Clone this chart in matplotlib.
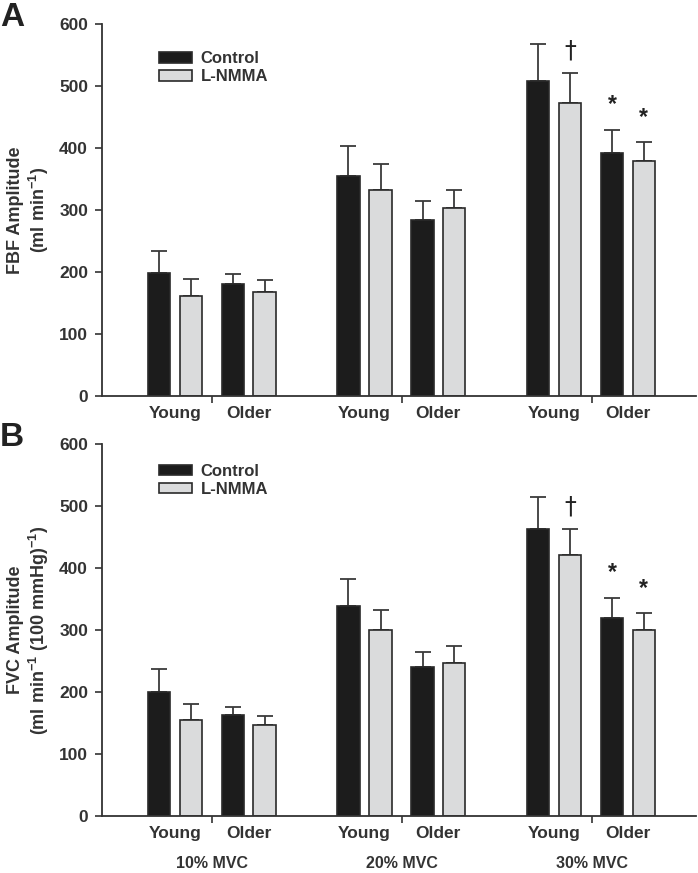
import matplotlib
matplotlib.use("Agg")
import matplotlib.pyplot as plt
import numpy as np

plt.rcParams['font.family'] = ['Liberation Sans', 'DejaVu Sans']
plt.rcParams['font.weight'] = 'bold'
plt.rcParams['mathtext.fontset'] = 'custom'
plt.rcParams['mathtext.rm'] = 'Liberation Sans:bold'
plt.rcParams['mathtext.bf'] = 'Liberation Sans:bold'
plt.rcParams['mathtext.it'] = 'Liberation Sans:bold'

intensities = ["10% MVC", "20% MVC", "30% MVC"]
groups = ["Young", "Older"]
conditions = ["Control", "L-NMMA"]

# Panel A: FBF amplitude  [intensity][Young ctrl, Young LNMMA, Older ctrl, Older LNMMA]
fbf_mean = [[198, 161, 181, 167],
            [355, 332, 284, 303],
            [508, 473, 392, 379]]
fbf_err = [[36, 28, 16, 20],
           [48, 42, 30, 30],
           [60, 48, 37, 30]]
fbf_marks = [["", "", "", ""], ["", "", "", ""], ["", "†", "*", "*"]]

# Panel B: FVC amplitude
fvc_mean = [[200, 155, 163, 147],
            [339, 300, 240, 247],
            [463, 421, 319, 300]]
fvc_err = [[37, 26, 13, 14],
           [43, 32, 24, 27],
           [51, 42, 33, 27]]
fvc_marks = [["", "", "", ""], ["", "", "", ""], ["", "†", "*", "*"]]

yticks = [0, 100, 200, 300, 400, 500, 600]

offsets = [-0.283, -0.113, 0.108, 0.275]
bar_w = 0.118
fills = ["#1c1c1c", "#dadbdc"]
edge = "#2a2a2a"

fig = plt.figure(figsize=(6.98, 8.73), dpi=100)
axA = fig.add_axes([0.146, 0.5464, 0.851, 0.4261])
axB = fig.add_axes([0.146, 0.0653, 0.851, 0.4261])

def draw(ax, means, errs, marks, ylabel, show_intensity, letter, leg_y):
    for gi in range(len(intensities)):
        for bi in range(4):
            x = gi + offsets[bi]
            cond = bi % 2
            ax.bar(x, means[gi][bi], width=bar_w, color=fills[cond],
                   edgecolor=edge, linewidth=1.2, zorder=2)
            ax.errorbar(x, means[gi][bi], yerr=[[0], [errs[gi][bi]]], fmt='none',
                        ecolor="#3a3a3a", elinewidth=1.3, capsize=5.5, capthick=1.3,
                        zorder=1)
            m = marks[gi][bi]
            if m:
                top = means[gi][bi] + errs[gi][bi]
                if m == "†":
                    ax.text(x, top + 17, m, ha='center', va='bottom', fontsize=17,
                            fontweight='normal', family=['DejaVu Sans'], color="#222222")
                else:
                    ax.text(x, top + 22, m, ha='center', va='bottom', fontsize=16.5,
                            fontweight='bold', color="#222222")
        # Young / Older labels
        for k, g in enumerate(groups):
            cx = gi + (offsets[2 * k] + offsets[2 * k + 1]) / 2
            ax.text(cx, -16, g, ha='center', va='top', fontsize=12.5, fontweight='bold',
                    color="#333333")
        if show_intensity:
            ax.text(gi, -64, intensities[gi], ha='center', va='top', fontsize=11.5,
                    fontweight='bold', color="#333333")
    ax.set_xlim(-0.583, 2.55)
    ax.set_ylim(0, 600)
    ax.set_yticks(yticks)
    ax.set_yticklabels([str(t) for t in yticks], fontsize=12.5, fontweight='bold',
                       color="#333333")
    ax.set_xticks(range(len(intensities)))
    ax.set_xticklabels([])
    ax.tick_params(axis='x', direction='out', length=5, width=1.2, color="#333333")
    ax.tick_params(axis='y', direction='out', length=5, width=1.2, color="#333333", pad=5)
    for s in ['top', 'right']:
        ax.spines[s].set_visible(False)
    for s in ['left', 'bottom']:
        ax.spines[s].set_linewidth(1.3)
        ax.spines[s].set_color("#333333")
    ax.set_ylabel(ylabel, fontsize=13, fontweight='bold', color="#333333",
                  linespacing=1.15, labelpad=6, multialignment='center')
    handles = [plt.Rectangle((0, 0), 1, 1, facecolor=fills[i], edgecolor=edge, linewidth=1.2)
               for i in range(2)]
    leg = ax.legend(handles, conditions, loc='upper left', bbox_to_anchor=(0.085, leg_y),
                    frameon=False, fontsize=12, handlelength=2.0, handleheight=0.6,
                    handletextpad=0.5, labelspacing=0.2, borderaxespad=0)
    for t in leg.get_texts():
        t.set_color("#333333")
        t.set_fontweight('bold')
    fig.text(0.0, ax.get_position().y1 + 0.008, letter, fontsize=24, fontweight='bold',
             va='center', ha='left', color="#222222")

draw(axA, fbf_mean, fbf_err, fbf_marks, "FBF Amplitude\n(ml min$^{-1}$)", False, "A", 0.945)
draw(axB, fvc_mean, fvc_err, fvc_marks, "FVC Amplitude\n(ml min$^{-1}$ (100 mmHg)$^{-1}$)", True, "B", 0.965)

fig.savefig("out.png", dpi=100, facecolor='white')
